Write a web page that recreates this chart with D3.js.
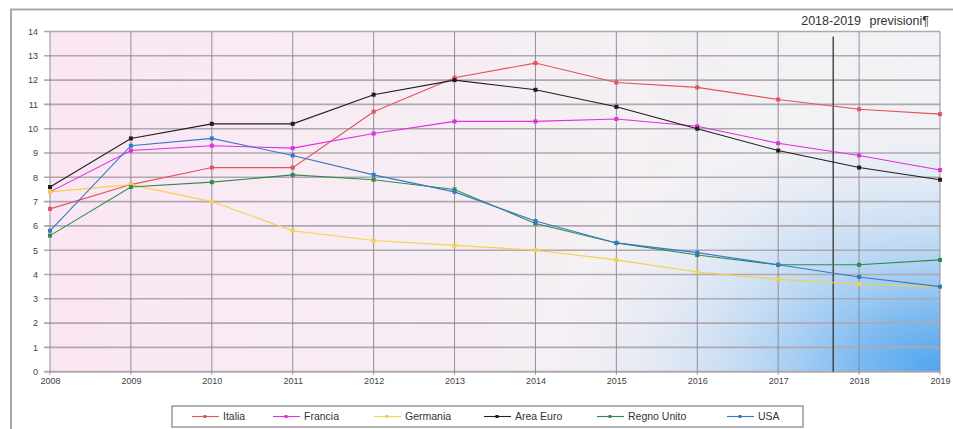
<!DOCTYPE html>
<html><head><meta charset="utf-8">
<script src="https://cdn.jsdelivr.net/npm/d3@7"></script>
<style>body{margin:0;background:#fff;}svg{display:block;font-family:"Liberation Sans",Arial,sans-serif;}</style>
</head><body>
<svg id="c" width="953" height="429"></svg>
<script>
const years = [2008,2009,2010,2011,2012,2013,2014,2015,2016,2017,2018,2019];
const yTicks = [0,1,2,3,4,5,6,7,8,9,10,11,12,13,14];
const italia     = [6.7,7.7,8.4,8.4,10.7,12.1,12.7,11.9,11.7,11.2,10.8,10.6];
const francia    = [7.4,9.1,9.3,9.2,9.8,10.3,10.3,10.4,10.1,9.4,8.9,8.3];
const germania   = [7.4,7.7,7.0,5.8,5.4,5.2,5.0,4.6,4.1,3.8,3.6,3.5];
const areaEuro   = [7.6,9.6,10.2,10.2,11.4,12.0,11.6,10.9,10.0,9.1,8.4,7.9];
const regnoUnito = [5.6,7.6,7.8,8.1,7.9,7.5,6.1,5.3,4.8,4.4,4.4,4.6];
const usa        = [5.8,9.3,9.6,8.9,8.1,7.4,6.2,5.3,4.9,4.4,3.9,3.5];
const seriesNames = ["Italia","Francia","Germania","Area Euro","Regno Unito","USA"];
const seriesColors = ["#e4525a","#e02ee0","#f2d24a","#1e1e1e","#2f8a4e","#3479c4"];
const forecastAt = 2017.68;
const forecastLabel = "2018-2019 previsioni¶";

const seriesValues = [italia,francia,germania,areaEuro,regnoUnito,usa];
const svg = d3.select("#c");
const L=50,R=940,T=31.5,B=371.7;
const x = d3.scaleLinear().domain([2008,2019]).range([L,R]);
const y = d3.scaleLinear().domain([0,14]).range([B,T]);

const defs = svg.append("defs");
const lg = defs.append("linearGradient").attr("id","bgl").attr("x1","0").attr("x2","1").attr("y1","0").attr("y2","0");
lg.append("stop").attr("offset","0").attr("stop-color","#fbe6f4");
lg.append("stop").attr("offset","0.4").attr("stop-color","#f7edf4");
lg.append("stop").attr("offset","0.7").attr("stop-color","#f3f0f3");
lg.append("stop").attr("offset","1").attr("stop-color","#f1f2f5");
const rg = defs.append("radialGradient").attr("id","bgr").attr("gradientUnits","userSpaceOnUse")
  .attr("cx",R).attr("cy",B).attr("r",420)
  .attr("gradientTransform",`translate(${R},${B}) scale(1,0.68) translate(${-R},${-B})`);
rg.append("stop").attr("offset","0").attr("stop-color","#4fa4ee").attr("stop-opacity",1);
rg.append("stop").attr("offset","0.2").attr("stop-color","#6fb4f0").attr("stop-opacity",0.9);
rg.append("stop").attr("offset","0.5").attr("stop-color","#acd1f4").attr("stop-opacity",0.6);
rg.append("stop").attr("offset","0.8").attr("stop-color","#dfe9f6").attr("stop-opacity",0.25);
rg.append("stop").attr("offset","1").attr("stop-color","#ffffff").attr("stop-opacity",0);

// frame
svg.append("line").attr("x1",10).attr("x2",953).attr("y1",9.5).attr("y2",9.5).attr("stroke","#a8a8a8").attr("stroke-width",2);
svg.append("line").attr("x1",11).attr("x2",11).attr("y1",9).attr("y2",429).attr("stroke","#a8a8a8").attr("stroke-width",2);

svg.append("rect").attr("x",L).attr("y",T).attr("width",R-L).attr("height",B-T).attr("fill","url(#bgl)");
svg.append("rect").attr("x",L).attr("y",T).attr("width",R-L).attr("height",B-T).attr("fill","url(#bgr)");

// grid
svg.append("g").selectAll("line").data(yTicks).join("line")
  .attr("x1",L-6).attr("x2",R).attr("y1",d=>y(d)).attr("y2",d=>y(d))
  .attr("stroke","#b0a8b0").attr("stroke-width",d=>d===0?2:1.6);
svg.append("g").selectAll("line").data(years).join("line")
  .attr("x1",d=>x(d)).attr("x2",d=>x(d)).attr("y1",T).attr("y2",B+3)
  .attr("stroke","#8a8590").attr("stroke-width",0.9);

// axes labels
const yAxis = d3.axisLeft(y).tickValues(yTicks).tickSize(0).tickPadding(0).tickFormat(d3.format("d"));
const gy = svg.append("g").attr("transform",`translate(38,0)`).call(yAxis);
gy.select(".domain").remove();
gy.selectAll("text").attr("font-size",9).attr("fill","#444").attr("font-family","Liberation Sans, Arial");
const xAxis = d3.axisBottom(x).tickValues(years).tickSize(0).tickPadding(0).tickFormat(d3.format("d"));
const gx = svg.append("g").attr("transform",`translate(0,${B+6})`).call(xAxis);
gx.select(".domain").remove();
gx.selectAll("text").attr("font-size",9).attr("fill","#444").attr("font-family","Liberation Sans, Arial");

// forecast line
svg.append("line").attr("x1",x(forecastAt)).attr("x2",x(forecastAt)).attr("y1",T+5).attr("y2",B)
  .attr("stroke","#333").attr("stroke-width",1.3);
svg.append("text").attr("x",929).attr("y",25).attr("text-anchor","end").attr("font-size",12.5).attr("fill","#333")
  .attr("word-spacing",5).text(forecastLabel);

// series
const line = d3.line().x((d,i)=>x(years[i])).y(d=>y(d));
seriesValues.forEach((vals,si)=>{
  const g = svg.append("g");
  g.append("path").datum(vals).attr("d",line).attr("fill","none").attr("stroke",seriesColors[si]).attr("stroke-width",1.1);
  g.selectAll("rect").data(vals).join("rect")
    .attr("x",(d,i)=>x(years[i])-2).attr("y",d=>y(d)-2).attr("width",4).attr("height",4)
    .attr("fill",seriesColors[si]);
});

// legend
const lx0=172, ly0=406, lw=631, lh=21;
svg.append("rect").attr("x",lx0).attr("y",ly0).attr("width",lw).attr("height",lh).attr("fill","#fff").attr("stroke","#8a8a8a").attr("stroke-width",1.3);
const legX = [192,273,374,484,597,727];
const lgI = svg.append("g").selectAll("g").data(seriesNames).join("g")
  .attr("transform",(d,i)=>`translate(${legX[i]},${ly0+lh/2})`);
lgI.append("line").attr("x1",0).attr("x2",27).attr("stroke",(d,i)=>seriesColors[i]).attr("stroke-width",1.1);
lgI.append("rect").attr("x",11.5).attr("y",-1.5).attr("width",3).attr("height",3).attr("fill",(d,i)=>seriesColors[i]);
lgI.append("text").attr("x",31).attr("y",3.5).attr("font-size",10.5).attr("fill","#333").text(d=>d);
</script>
</body></html>
